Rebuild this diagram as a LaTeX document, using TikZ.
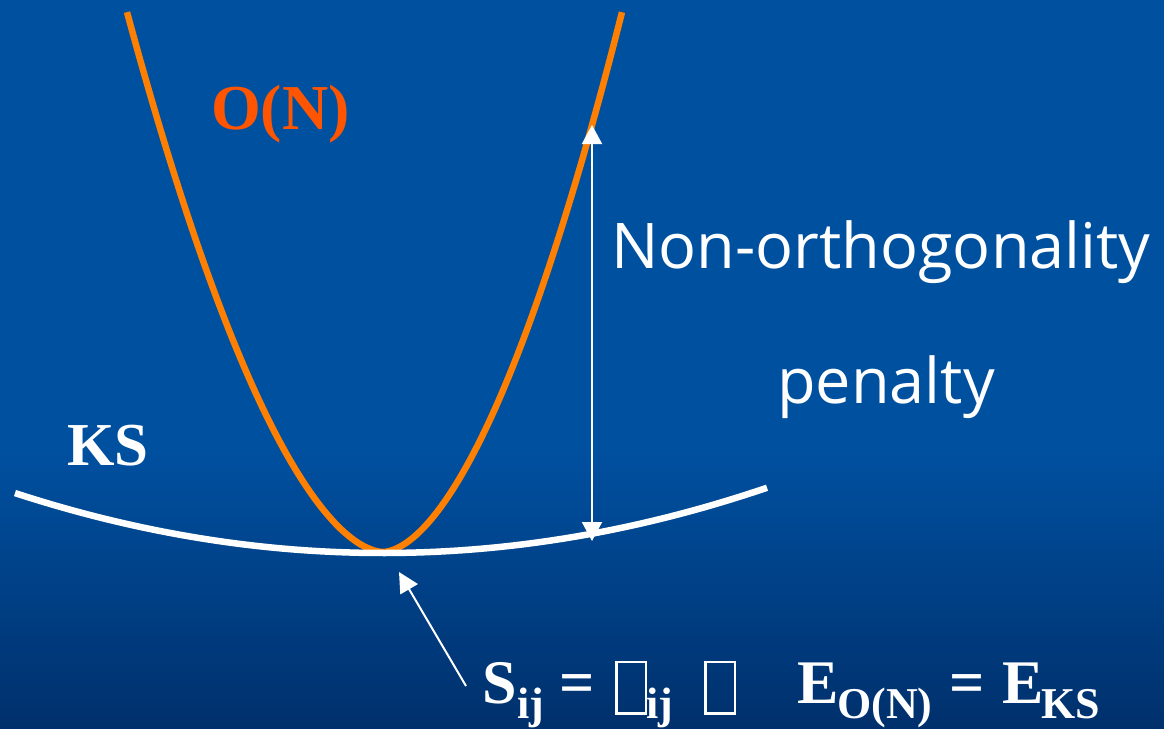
\documentclass[tikz,border=0pt]{standalone}
\usepackage{fontspec}
\usetikzlibrary{arrows.meta}
\newfontfamily\tnr{Liberation Serif}
\newfontfamily\comic{Open Sans}
\definecolor{bgtop}{HTML}{0050A0}
\definecolor{bgbot}{HTML}{00306C}
\definecolor{curveorange}{HTML}{FF8000}
\definecolor{labelorange}{HTML}{FF5500}
\newcommand\tofu{{\setlength{\fboxrule}{2.5pt}\setlength{\fboxsep}{0pt}\raisebox{-9pt}{\fbox{\rule{0pt}{49pt}\hspace{27pt}}}}}
\newcommand\lowsub[1]{\raisebox{-15pt}{\fontsize{44}{44}\selectfont #1}}
\newcommand\piece[2]{\makebox[#1pt][l]{#2}}
\tikzset{
  orangeline/.style={draw=curveorange,line width=6.5pt},
  ksline/.style={draw=white,line width=6.5pt},
  whitearrow/.style={draw=white,line width=2pt,arrows={Triangle[width=20pt,length=19pt]-Triangle[width=20pt,length=19pt]}},
  pointer/.style={draw=white,line width=2pt,-{Triangle[width=20pt,length=20pt]}},
  serifbold/.style={inner sep=0pt,anchor=base west,font=\tnr\bfseries\fontsize{62}{62}\selectfont},
  comictext/.style={inner sep=0pt,anchor=base west,text=white,font=\comic\fontsize{63}{63}\selectfont}
}
\begin{document}
\begin{tikzpicture}[x=1pt,y=-1pt]
\useasboundingbox (0,0) rectangle (1164,728);
\fill[bgtop] (0,0) rectangle (1164,451);
\shade[top color=bgtop,bottom color=bgbot] (0,450) rectangle (1164,728);
% O(N) curve
\draw[orangeline] plot[domain=127:383,samples=80] (\x,{552-104.2*((abs(\x-383)+0.01)/100)^1.75})
  -- plot[domain=383:622,samples=80] (\x,{552-117.5*((abs(\x-383)+0.01)/100)^1.75});
% KS curve
\draw[ksline] plot[domain=15:767,samples=60] (\x,{553-0.000446*(\x-383)*(\x-383)});
% penalty arrow
\coordinate (ptop) at (592,125);
\coordinate (pbot) at (592,541);
\draw[whitearrow] (ptop) -- (pbot);
% pointer arrow
\coordinate (pstart) at (466,686);
\coordinate (ptip) at (399,572);
\draw[pointer] (pstart) -- (ptip);
% labels
\node[serifbold,text=labelorange,font=\tnr\bfseries\fontsize{64}{64}\selectfont] (on) at (211,129) {O(N)};
\node[serifbold,text=white,font=\tnr\bfseries\fontsize{61}{61}\selectfont] (ks) at (67,465) {KS};
\node[comictext] (non) at (611,268) {Non-orthogonality};
\node[comictext] (pen) at (777,403) {penalty};
\node[serifbold,text=white] (eq) at (482,703) {%
\piece{35}{S}%
\piece{42}{\lowsub{ij}}%
\piece{56}{=}%
\piece{31}{\tofu}%
\piece{58}{\lowsub{ij}}%
\piece{93}{\tofu}%
\piece{40}{E}%
\piece{112}{\lowsub{O(N)}}%
\piece{53}{=}%
\piece{39}{E}%
\lowsub{KS}};
\end{tikzpicture}
\end{document}
